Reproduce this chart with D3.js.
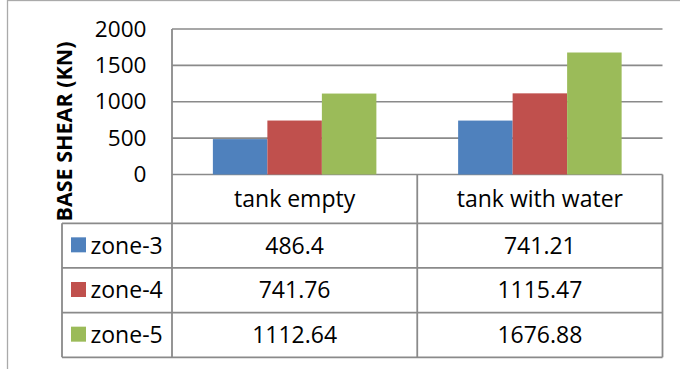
<!DOCTYPE html>
<html>
<head>
<meta charset="utf-8">
<script src="https://cdn.jsdelivr.net/npm/d3@7/dist/d3.min.js"></script>
<style>
  html, body { margin: 0; padding: 0; background: #fff; }
  svg { display: block; }
  text { font-family: "Open Sans", "Liberation Sans", sans-serif; fill: #000; }
</style>
</head>
<body>
<svg id="chart" width="680" height="369"></svg>
<script>
// Base shear per seismic zone, empty vs. filled tank
const categories = ["tank empty", "tank with water"];
const seriesNames = ["zone-3", "zone-4", "zone-5"];
const zone3 = [486.4, 741.21];
const zone4 = [741.76, 1115.47];
const zone5 = [1112.64, 1676.88];
const yTicks = [0, 500, 1000, 1500, 2000];
const seriesColors = ["#4f81bd", "#c0504d", "#9bbb59"];
const yTitle = "BASE SHEAR (KN)";

const seriesValues = [zone3, zone4, zone5];

const svg = d3.select("#chart");
const W = 680, H = 369;
const plot = { left: 172, right: 662.5, top: 29, bottom: 174.5 };
const tableBottom = 357.3;
const legendLeft = 62;
const lineColor = "#8a8a8a";
const fontSize = 23;

// outer frame
svg.append("rect")
  .attr("x", 7.5).attr("y", 0.5)
  .attr("width", W + 10).attr("height", H + 10)
  .attr("fill", "none").attr("stroke", "#aaaaaa").attr("stroke-width", 1.3);

const x = d3.scaleBand().domain(categories).range([plot.left, plot.right]);
const xInner = d3.scaleBand().domain(seriesNames)
  .range([0, x.bandwidth()]).paddingInner(0).paddingOuter(0.75);
const y = d3.scaleLinear().domain([0, 2000]).range([plot.bottom, plot.top]);

// horizontal gridlines
svg.append("g").selectAll("line").data(yTicks).join("line")
  .attr("x1", plot.left).attr("x2", plot.right)
  .attr("y1", d => y(d)).attr("y2", d => y(d))
  .attr("stroke", lineColor).attr("stroke-width", 1.6);

// y tick labels
const yAxis = svg.append("g")
  .attr("transform", `translate(${plot.left},0)`)
  .call(d3.axisLeft(y).tickValues(yTicks).tickSize(0).tickPadding(25.5).tickFormat(d3.format("d")));
yAxis.select(".domain").remove();
yAxis.selectAll("text")
  .style("font-family", '"Open Sans", "Liberation Sans", sans-serif')
  .style("font-size", "22.6px").attr("fill", "#000");

// bars
const groups = svg.append("g").selectAll("g").data(categories).join("g")
  .attr("transform", d => `translate(${x(d)},0)`);
groups.selectAll("rect")
  .data((c, ci) => seriesNames.map((s, si) => ({ s, si, v: seriesValues[si][ci] })))
  .join("rect")
  .attr("x", d => xInner(d.s))
  .attr("width", xInner.bandwidth())
  .attr("y", d => y(d.v))
  .attr("height", d => y(0) - y(d.v))
  .attr("fill", d => seriesColors[d.si]);

// data table
const rows = d3.scaleBand().domain(seriesNames).range([223.3, tableBottom]);
const table = svg.append("g");
const hLines = [223.3].concat(seriesNames.map(s => rows(s) + rows.bandwidth()));
table.selectAll("line.h").data(hLines).join("line").attr("class", "h")
  .attr("x1", legendLeft).attr("x2", plot.right)
  .attr("y1", d => d).attr("y2", d => d)
  .attr("stroke", lineColor).attr("stroke-width", 1.8);
// vertical axis line through the table
table.append("line")
  .attr("x1", plot.left).attr("x2", plot.left)
  .attr("y1", plot.top).attr("y2", tableBottom)
  .attr("stroke", lineColor).attr("stroke-width", 1.8);
// category separators and right edge
table.selectAll("line.v").data(categories).join("line").attr("class", "v")
  .attr("x1", d => x(d) + x.bandwidth()).attr("x2", d => x(d) + x.bandwidth())
  .attr("y1", plot.bottom).attr("y2", tableBottom)
  .attr("stroke", lineColor).attr("stroke-width", 1.8);
// legend column left edge
table.append("line")
  .attr("x1", legendLeft).attr("x2", legendLeft)
  .attr("y1", 223.3).attr("y2", tableBottom)
  .attr("stroke", lineColor).attr("stroke-width", 1.8);

// header (category names)
table.selectAll("text.cat").data(categories).join("text").attr("class", "cat")
  .attr("x", d => x(d) + x.bandwidth() / 2)
  .attr("y", (plot.bottom + 223.3) / 2 + 8)
  .attr("text-anchor", "middle")
  .style("font-size", fontSize + "px")
  .text(d => d);

// legend keys and series names
const legendRows = table.selectAll("g.row").data(seriesNames).join("g").attr("class", "row")
  .attr("transform", d => `translate(0,${rows(d) + rows.bandwidth() / 2})`);
legendRows.append("rect")
  .attr("x", 71).attr("y", -8.3).attr("width", 15).attr("height", 15)
  .attr("fill", (d, i) => seriesColors[i]);
legendRows.append("text")
  .attr("x", 90.5).attr("y", 8)
  .style("font-size", fontSize + "px")
  .text(d => d);

// value cells
legendRows.selectAll("text.val")
  .data((s, si) => categories.map((c, ci) => ({ c, v: seriesValues[si][ci] })))
  .join("text").attr("class", "val")
  .attr("x", d => x(d.c) + x.bandwidth() / 2)
  .attr("y", 8)
  .attr("text-anchor", "middle")
  .style("font-size", fontSize + "px")
  .text(d => String(d.v));

// y-axis title
svg.append("text")
  .attr("transform", `translate(71.5,131.5) rotate(-90)`)
  .attr("text-anchor", "middle")
  .style("font-size", "21.5px")
  .style("font-weight", "bold")
  .text(yTitle);
</script>
</body>
</html>
